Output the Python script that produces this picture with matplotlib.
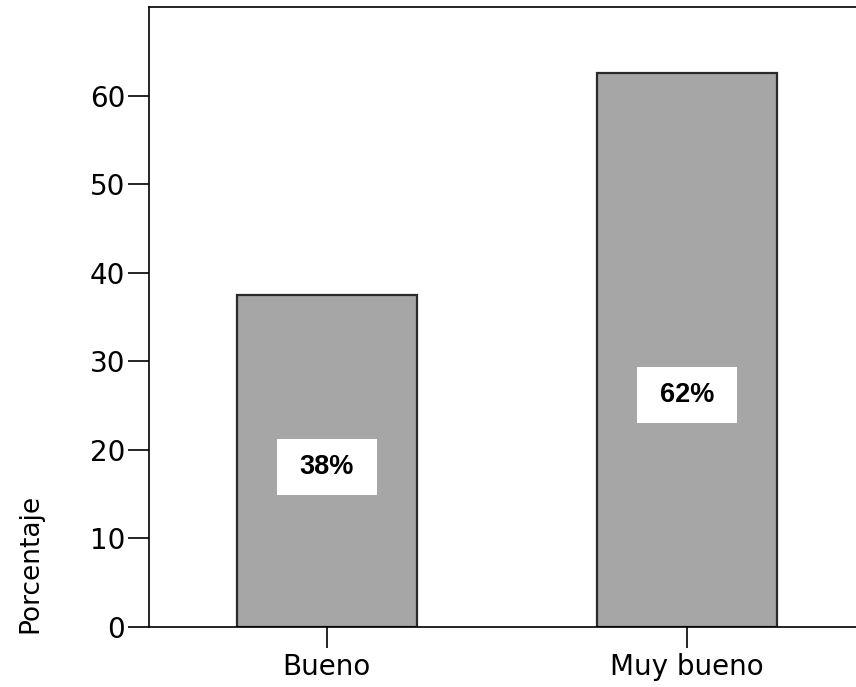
import numpy as np
import matplotlib.pyplot as plt

categories = ['Bueno', 'Muy bueno']
values = [37.5, 62.5]
labels = ['38%', '62%']
label_y = [18.1, 26.2]
yticks = [0, 10, 20, 30, 40, 50, 60]

plt.rcParams['font.family'] = 'DejaVu Sans'

fig = plt.figure(figsize=(8.56, 6.87), dpi=100)
ax = fig.add_axes([0.174, 0.0873, 0.8364, 0.9025])

x = np.arange(len(categories))
ax.bar(x, values, width=0.5, color='#a6a6a6', edgecolor='#2a2a2a', linewidth=1.6, zorder=2)

# white boxes with the percentage
for xi, lab, ly in zip(x, labels, label_y):
    ax.text(xi, ly, lab, ha='center', va='center', fontsize=19.5, fontweight='bold',
            family=['Liberation Sans', 'DejaVu Sans'], zorder=3,
            bbox=dict(boxstyle='square,pad=0.85', facecolor='white', edgecolor='none',
                      mutation_aspect=0.65))

ax.set_xlim(-0.494, 1.494)
ax.set_ylim(0, 70)
ax.set_xticks(x)
ax.set_xticklabels(categories)
ax.set_yticks(yticks)
ax.tick_params(axis='both', direction='out', length=15, width=1.2, labelsize=20, colors='black')
ax.tick_params(axis='x', pad=4)
ax.tick_params(axis='y', pad=2)

for s in ax.spines.values():
    s.set_linewidth(1.2)

fig.text(0.035, 1 - 563 / 687, 'Porcentaje', rotation=90, ha='center', va='center', fontsize=19)

fig.savefig('out.png', dpi=100)
